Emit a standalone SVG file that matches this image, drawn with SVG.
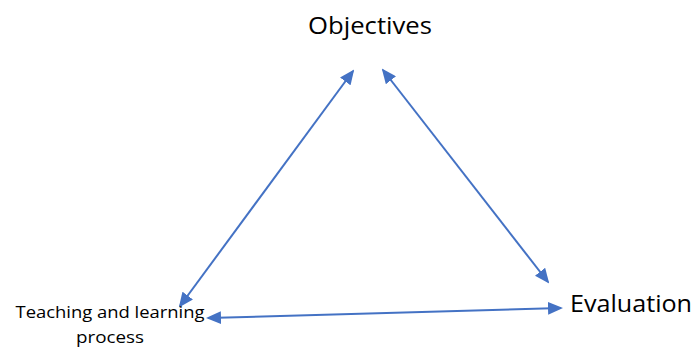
<svg xmlns="http://www.w3.org/2000/svg" width="694" height="347" viewBox="0 0 694 347">
<style>
text{font-family:"Open Sans","Liberation Sans",sans-serif;fill:#000}
.c{stroke:#4472C4;stroke-width:2;fill:none}
</style>
<defs>
<marker id="a" viewBox="0 0 15 13" refX="13" refY="6.5" markerWidth="15" markerHeight="13" markerUnits="userSpaceOnUse" orient="auto-start-reverse"><path d="M0,0 L15,6.5 L0,13 z" fill="#4472C4"/></marker>
</defs>
<rect width="694" height="347" fill="#fff"/>
<g id="connectors">
<line class="c" x1="353" y1="71" x2="180" y2="306" marker-start="url(#a)" marker-end="url(#a)"/>
<line class="c" x1="383" y1="70" x2="548" y2="282" marker-start="url(#a)" marker-end="url(#a)"/>
<line class="c" x1="208" y1="318" x2="561" y2="308" marker-start="url(#a)" marker-end="url(#a)"/>
</g>
<g id="objectives"><text x="370" y="34" font-size="23" text-anchor="middle" textLength="124" lengthAdjust="spacingAndGlyphs">Objectives</text></g>
<g id="evaluation"><text x="570" y="312" font-size="23" textLength="122" lengthAdjust="spacingAndGlyphs">Evaluation</text></g>
<g id="teaching"><text x="110" y="318" font-size="16" text-anchor="middle" textLength="189" lengthAdjust="spacingAndGlyphs">Teaching and learning</text><text x="110" y="343" font-size="17" text-anchor="middle" textLength="68" lengthAdjust="spacingAndGlyphs">process</text></g>
</svg>
